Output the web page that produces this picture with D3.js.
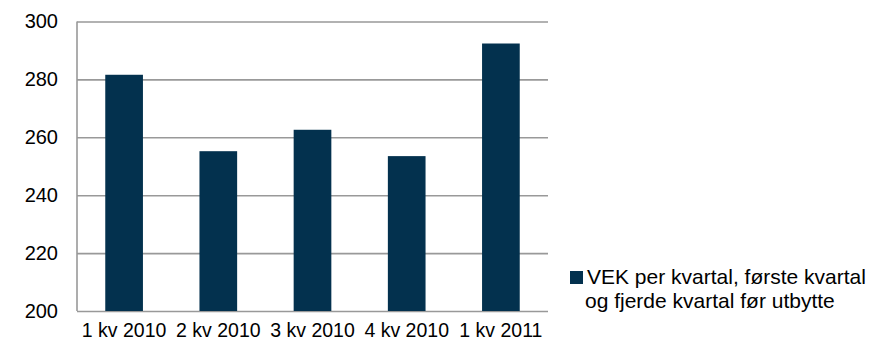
<!DOCTYPE html>
<html>
<head>
<meta charset="utf-8">
<script src="https://cdn.jsdelivr.net/npm/d3@7"></script>
<style>
  body { margin: 0; background: #fff; }
  svg text { font-family: "Liberation Sans", Arial, sans-serif; fill: #000; }
</style>
</head>
<body>
<svg id="chart" width="870" height="342"></svg>
<script>
// Quarterly values
const categories = ["1 kv 2010", "2 kv 2010", "3 kv 2010", "4 kv 2010", "1 kv 2011"];
const values = [281.6, 255.2, 262.6, 253.5, 292.4];
const yTicks = [200, 220, 240, 260, 280, 300];
const seriesName = ["VEK per kvartal, første kvartal", "og fjerde kvartal før utbytte"];

const barColor = "#03314e";
const gridColor = "#999999";

const svg = d3.select("#chart");
const margin = { left: 77, right: 322, top: 21.5, bottom: 31 };
const width = 870 - margin.left - margin.right;
const height = 342 - margin.top - margin.bottom;

const g = svg.append("g").attr("transform", `translate(${margin.left},${margin.top})`);

const x = d3.scaleBand().domain(categories).range([0, width]).paddingInner(0.6).paddingOuter(0.3);
const y = d3.scaleLinear().domain([200, 300]).range([height, 0]);

// Horizontal gridlines with labels
const yAxis = d3.axisLeft(y).tickValues(yTicks).tickSize(-width).tickPadding(19).tickFormat(d3.format("d"));
const ya = g.append("g").call(yAxis);
ya.select(".domain").remove();
ya.selectAll(".tick line").attr("stroke", gridColor).attr("stroke-width", 1.6);
ya.selectAll(".tick text").style("font-size", "20px").attr("fill", "#000");

// Left axis line
g.append("line")
  .attr("x1", 0).attr("x2", 0).attr("y1", 0).attr("y2", height)
  .attr("stroke", gridColor).attr("stroke-width", 1.6);

// Bars
g.selectAll("rect.bar")
  .data(categories)
  .enter().append("rect")
  .attr("class", "bar")
  .attr("x", d => x(d))
  .attr("width", x.bandwidth())
  .attr("y", (d, i) => y(values[i]))
  .attr("height", (d, i) => y(200) - y(values[i]))
  .attr("fill", barColor);

// Category labels
const xAxis = d3.axisBottom(x).tickSize(0).tickPadding(12);
const xa = g.append("g").attr("transform", `translate(0,${height})`).call(xAxis);
xa.select(".domain").remove();
xa.selectAll(".tick text").style("font-size", "19.5px").attr("fill", "#000");

// Legend
const legend = svg.append("g").attr("transform", "translate(570,271)");
legend.append("rect").attr("x", 0).attr("y", 0).attr("width", 13).attr("height", 13).attr("fill", barColor);
legend.selectAll("text")
  .data(seriesName)
  .enter().append("text")
  .attr("x", (d, i) => i === 0 ? 17 : 15)
  .attr("y", (d, i) => 13 + i * 24)
  .style("font-size", "21px")
  .text(d => d);
</script>
</body>
</html>
